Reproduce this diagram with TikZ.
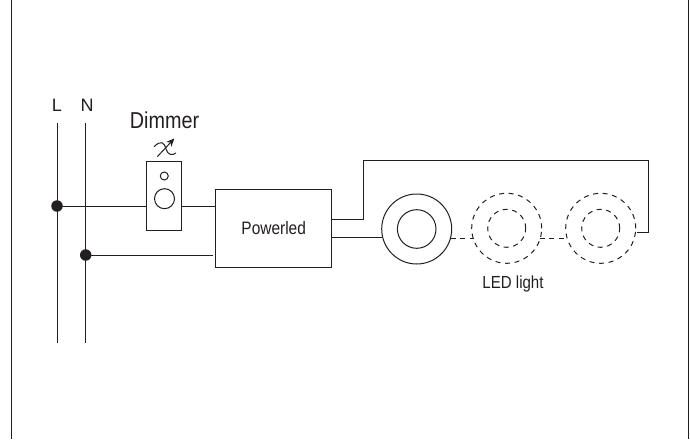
\documentclass[tikz,border=0pt]{standalone}
\usepackage{fontspec}
\setmainfont{Liberation Sans}[FakeStretch=0.86]
\newfontfamily\phasefont{Liberation Sans}
\usetikzlibrary{arrows.meta}
\definecolor{inkgray}{HTML}{231F20}
\tikzset{
  wire/.style = {draw=inkgray, line width=1pt},
  dash_wire/.style = {wire, dash pattern=on 5pt off 4.6pt},
  phase_n/.style = {inner sep=0pt, text=inkgray, font=\phasefont\fontsize{18}{18}\selectfont},
  dot_n/.style = {circle, fill=inkgray, inner sep=0pt, outer sep=0pt, minimum size=11.5pt},
  box_n/.style = {rectangle, wire, inner sep=0pt, outer sep=0pt, text=inkgray, fill=white},
  ring_n/.style = {circle, wire, inner sep=0pt, outer sep=0pt},
  led_dash/.style = {ring_n, dash pattern=on 5pt off 4.6pt},
  label_n/.style = {inner sep=0pt, text=inkgray}
}
\begin{document}
\begin{tikzpicture}[x=1pt,y=-1pt,>={Stealth[length=8pt,width=7pt]}]
  \useasboundingbox (0,0) rectangle (690,439);
  % frame sides
  \coordinate (frame_lt) at (11.5,0);
  \coordinate (frame_lb) at (11.5,439);
  \coordinate (frame_rt) at (688,0);
  \coordinate (frame_rb) at (688,439);
  \draw [wire] (frame_lt) -- (frame_lb);
  \draw [wire] (frame_rt) -- (frame_rb);
  % mains
  \node [phase_n] (lab_l) at (57,105) {L};
  \node [phase_n] (lab_n) at (87,105) {N};
  \coordinate (l_top) at (57,123);
  \coordinate (l_bot) at (57,343);
  \coordinate (n_top) at (85.7,123);
  \coordinate (n_bot) at (85.7,343);
  \draw [wire] (l_top) -- (l_bot);
  \draw [wire] (n_top) -- (n_bot);
  \node [dot_n] (dot_l) at (57,206) {};
  \node [dot_n] (dot_n) at (85.7,255) {};
  % dimmer
  \node [box_n, minimum width=34.6pt, minimum height=68.6pt] (dimmer) at (164,196) {};
  \node [ring_n, minimum size=8pt] (dim_small) at (164.3,176) {};
  \node [ring_n, minimum size=20pt] (dim_big) at (164.5,198.7) {};
  \node [label_n, font=\fontsize{23}{23}\selectfont] (dim_lab) at (164.5,120.5) {Dimmer};
  \draw [wire] (154,146.7) .. controls (161,140) and (164,142) .. (166,149)
    .. controls (168,155) and (172,156) .. (176,153);
  \draw [wire, ->] (157.3,156.7) -- (174.3,138.5);
  % power supply
  \node [box_n, minimum width=116pt, minimum height=78.4pt,
    font=\fontsize{18}{18}\selectfont] (powerled) at (273.7,228.5) {Powerled};
  % lights
  \node [ring_n, minimum size=70pt] (led_a) at (416.7,229) {};
  \node [ring_n, minimum size=38.6pt] (led_a_in) at (416.7,229) {};
  \node [led_dash, minimum size=70pt] (led_b) at (506.7,228.3) {};
  \node [led_dash, minimum size=38pt] (led_b_in) at (506.7,228.3) {};
  \node [led_dash, minimum size=70pt] (led_c) at (600.7,228.3) {};
  \node [led_dash, minimum size=38pt] (led_c_in) at (600.7,228.3) {};
  \node [label_n, font=\fontsize{17.5}{17.5}\selectfont] (led_lab) at (513,284) {LED light};
  % wiring
  \coordinate (n_end) at (213,255);
  \coordinate (top_a) at (363.3,219.3);
  \coordinate (top_b) at (363.3,160.3);
  \coordinate (top_c) at (648.3,160.3);
  \coordinate (top_d) at (648.3,232.7);
  \coordinate (ret_c) at (637.3,232.7);
  \coordinate (low_a) at (381.8,237.7);
  \coordinate (dash_a) at (450.6,238.2);
  \coordinate (dash_b) at (473.6,238.2);
  \coordinate (dash_c) at (539.6,238.2);
  \coordinate (dash_d) at (567.4,238.2);
  \draw [wire] (dot_l.center) -- (dot_l.center -| dimmer.west);
  \draw [wire] (dimmer.east |- dot_l.center) -- (dot_l.center -| powerled.west);
  \draw [wire] (dot_n.center) -- (n_end);
  \draw [wire] (powerled.east |- top_a) -- (top_a) -- (top_b) -- (top_c) -- (top_d) -- (ret_c);
  \draw [wire] (powerled.east |- low_a) -- (low_a);
  \draw [dash_wire] (dash_a) -- (dash_b);
  \draw [dash_wire] (dash_c) -- (dash_d);
\end{tikzpicture}
\end{document}
